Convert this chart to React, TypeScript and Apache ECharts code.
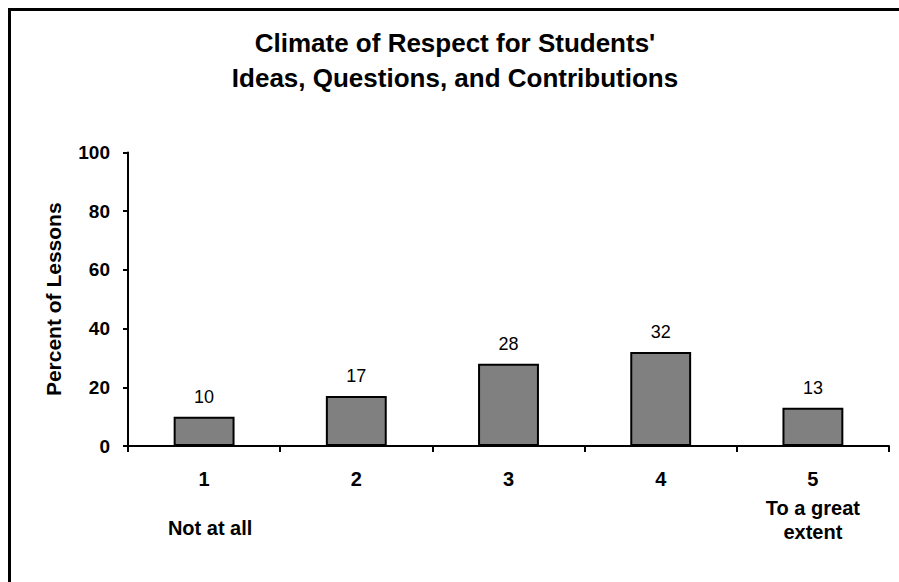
import React, { useEffect, useRef } from "react";
import * as echarts from "echarts";

const titleLines = ["Climate of Respect for Students'", "Ideas, Questions, and Contributions"];
const categories = ["1", "2", "3", "4", "5"];
const subLabels = ["Not at all", "", "", "", "To a great\nextent"];
const values = [10, 17, 28, 32, 13];
const yTicks = { min: 0, max: 100, interval: 20 };
const yName = "Percent of Lessons";

const FONT = 'Arial, "Liberation Sans", Helvetica, sans-serif';

export default function App() {
  const ref = useRef<HTMLDivElement>(null);
  useEffect(() => {
    if (!ref.current) return;
    document.body.style.margin = "0";
    document.body.style.overflow = "hidden";
    const chart = echarts.init(ref.current, undefined, { renderer: "svg" });
    chart.setOption({
      animation: false,
      backgroundColor: "#ffffff",
      textStyle: { fontFamily: FONT },
      title: {
        text: titleLines.join("\n"),
        left: 455,
        textAlign: "center",
        top: 25,
        padding: 0,
        textStyle: {
          fontFamily: FONT,
          fontSize: 26,
          fontWeight: "bold",
          color: "#000",
          lineHeight: 35,
        },
      },
      graphic: [
        { type: "line", shape: { x1: 8, y1: 9.5, x2: 910, y2: 9.5 }, style: { stroke: "#000", lineWidth: 3 } },
        { type: "line", shape: { x1: 9.5, y1: 8, x2: 9.5, y2: 600 }, style: { stroke: "#000", lineWidth: 3 } },
      ],
      grid: { left: 128, right: 10, top: 152.5, bottom: 136, containLabel: false },
      xAxis: {
        type: "category",
        data: categories,
        boundaryGap: true,
        axisLine: { lineStyle: { color: "#000", width: 2 } },
        axisTick: { show: true, length: 6, lineStyle: { color: "#000", width: 2 } },
        axisLabel: {
          interval: 0,
          margin: 16,
          formatter: (v: string, i: number) => {
            const sub = subLabels[i];
            if (!sub) return `{n|${v}}`;
            const lines = sub.split("\n");
            if (lines.length === 1) return `{n|${v}}\n{c|${lines[0]}}`;
            return `{n|${v}}\n` + lines.map((l) => `{b|${l}}`).join("\n");
          },
          rich: {
            n: { fontFamily: FONT, fontSize: 20, fontWeight: "bold", color: "#000", lineHeight: 34 },
            b: { fontFamily: FONT, fontSize: 20, fontWeight: "bold", color: "#000", lineHeight: 24 },
            c: { fontFamily: FONT, fontSize: 20, fontWeight: "bold", color: "#000", lineHeight: 64, padding: [0, 0, 0, 12] },
          },
        },
      },
      yAxis: {
        type: "value",
        min: yTicks.min,
        max: yTicks.max,
        interval: yTicks.interval,
        name: yName,
        nameLocation: "middle",
        nameGap: 64,
        nameTextStyle: { fontFamily: FONT, fontSize: 21, fontWeight: "bold", color: "#000" },
        axisLine: { show: true, lineStyle: { color: "#000", width: 2 } },
        axisTick: { show: true, length: 5, lineStyle: { color: "#000", width: 2 } },
        splitLine: { show: false },
        axisLabel: { fontFamily: FONT, fontSize: 19, fontWeight: "bold", color: "#000", margin: 18 },
      },
      series: [
        {
          type: "bar",
          data: values,
          barWidth: "40%",
          itemStyle: { color: "#808080", borderColor: "#000", borderWidth: 2 },
          label: {
            show: true,
            position: "top",
            distance: 11,
            fontFamily: FONT,
            fontSize: 18,
            color: "#000",
          },
        },
      ],
    });
    return () => chart.dispose();
  }, []);
  return <div ref={ref} style={{ width: 899, height: 582 }} />;
}
